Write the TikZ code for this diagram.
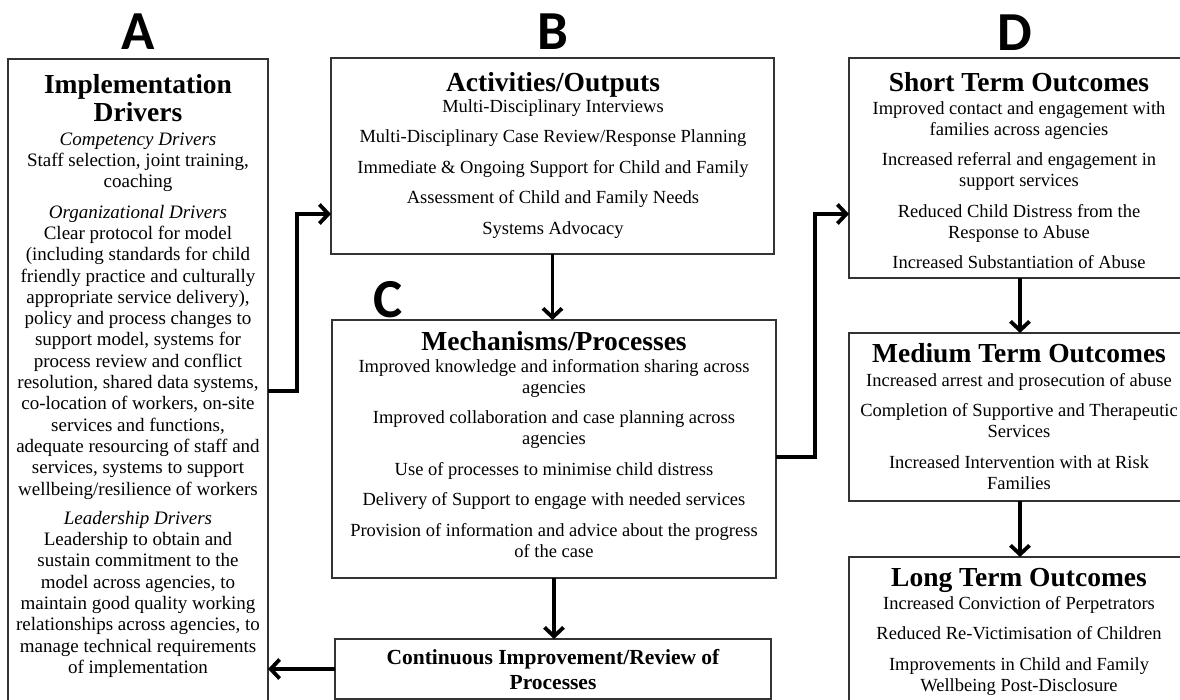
\documentclass[tikz,border=0pt]{standalone}
\usepackage{fontspec}
\setmainfont{Liberation Serif}
\newfontfamily\lblfont{Carlito}
\usetikzlibrary{arrows.meta,calc}
\newcommand\ttlfont{\fontsize{27.5pt}{28pt}\selectfont\bfseries}
\newcommand\bodyfont{\fontsize{18.5pt}{21pt}\selectfont}
\newcommand\bodyAfont{\fontsize{19pt}{21.3pt}\selectfont}
\newcommand\cifont{\fontsize{21.5pt}{25pt}\selectfont\bfseries}
\tikzset{
  box/.style={draw=black!80, line width=1.1pt, anchor=north west, inner sep=0pt, outer sep=0pt},
  ttl/.style={anchor=north, inner sep=0pt, align=center, font=\ttlfont},
  body/.style={anchor=north, inner sep=0pt, align=center, font=\bodyfont},
  lbl/.style={inner sep=0pt, font=\lblfont\bfseries\fontsize{55pt}{55pt}\selectfont},
  arr/.style={line width=3.6pt, -{Straight Barb[length=9pt,width=19pt,line width=3.8pt]}}
}
\begin{document}
\begin{tikzpicture}[x=1pt,y=-1pt]
\useasboundingbox (0,0) rectangle (1180,700);
% letter labels
\node[lbl] (lA) at (138,32) {A};
\node[lbl] (lB) at (553,32) {B};
\node[lbl] (lC) at (388,300) {C};
\node[lbl] (lD) at (1015,33) {D};
% boxes
\node[box, minimum width=260pt, minimum height=661pt] (A) at (8,59) {};
\node[box, minimum width=443pt, minimum height=196pt] (B) at (331,58) {};
\node[box, minimum width=444pt, minimum height=258pt] (C) at (332,320) {};
\node[box, minimum width=436pt, minimum height=60pt] (CI) at (335,639) {};
\node[box, minimum width=342pt, minimum height=220pt] (ST) at (849,58) {};
\node[box, minimum width=342pt, minimum height=168pt] (MT) at (849,333) {};
\node[box, minimum width=342pt, minimum height=170pt] (LT) at (849,557) {};
% A text
\node[ttl] (At) at (138,74) {Implementation\\Drivers};
\node[body, font=\bodyAfont] (Ab) at (138,132.5) {\textit{Competency Drivers}\\
Staff selection, joint training,\\
coaching\\[9pt]
\textit{Organizational Drivers}\\
Clear protocol for model\\
(including standards for child\\
friendly practice and culturally\\
appropriate service delivery),\\
policy and process changes to\\
support model, systems for\\
process review and conflict\\
resolution, shared data systems,\\
co-location of workers, on-site\\
services and functions,\\
adequate resourcing of staff and\\
services, systems to support\\
wellbeing/resilience of workers\\[8pt]
\textit{Leadership Drivers}\\
Leadership to obtain and\\
sustain commitment to the\\
model across agencies, to\\
maintain good quality working\\
relationships across agencies, to\\
manage technical requirements\\
of implementation};
% B text
\node[ttl] (Bt) at (553,72) {Activities/Outputs};
\node[body] (Bb) at (553,99) {Multi-Disciplinary Interviews\\[9.5pt]
Multi-Disciplinary Case Review/Response Planning\\[9.5pt]
Immediate \& Ongoing Support for Child and Family\\[9.5pt]
Assessment of Child and Family Needs\\[9.5pt]
Systems Advocacy};
% C text
\node[ttl] (Ct) at (554,331) {Mechanisms/Processes};
\node[body] (Cb) at (554,359) {Improved knowledge and information sharing across\\
agencies\\[9.5pt]
Improved collaboration and case planning across\\
agencies\\[9.5pt]
Use of processes to minimise child distress\\[9.5pt]
Delivery of Support to engage with needed services\\[9.5pt]
Provision of information and advice about the progress\\
of the case};
% CI text
\node[body, font=\cifont] (CIt) at (553,649) {Continuous Improvement/Review of\\Processes};
% ST text
\node[ttl] (STt) at (1019,72) {Short Term Outcomes};
\node[body] (STb) at (1019,101) {Improved contact and engagement with\\
families across agencies\\[9.5pt]
Increased referral and engagement in\\
support services\\[9.5pt]
Reduced Child Distress from the\\
Response to Abuse\\[9.5pt]
Increased Substantiation of Abuse};
% MT text
\node[ttl] (MTt) at (1019,343) {Medium Term Outcomes};
\node[body] (MTb) at (1019,373) {Increased arrest and prosecution of abuse\\[9.5pt]
Completion of Supportive and Therapeutic\\
Services\\[9.5pt]
Increased Intervention with at Risk\\
Families};
% LT text
\node[ttl] (LTt) at (1019,568) {Long Term Outcomes};
\node[body] (LTb) at (1019,596) {Increased Conviction of Perpetrators\\[9.5pt]
Reduced Re-Victimisation of Children\\[9.5pt]
Improvements in Child and Family\\
Wellbeing Post-Disclosure};
% connectors
\draw[arr] ($(A.north east)+(0,332)$) -- ++(29,0) |- ($(B.south west)+(0,-40)$);
\draw[arr] (B.south) -- (B.south |- C.north);
\draw[arr] ($(C.north east)+(0,137)$) -- ++(39,0) |- ($(ST.south west)+(0,-64)$);
\draw[arr] (C.south) -- (C.south |- CI.north);
\draw[arr] (CI.west) -- (CI.west -| A.east);
\draw[arr] (ST.south) -- (ST.south |- MT.north);
\draw[arr] (MT.south) -- (MT.south |- LT.north);
\end{tikzpicture}
\end{document}
